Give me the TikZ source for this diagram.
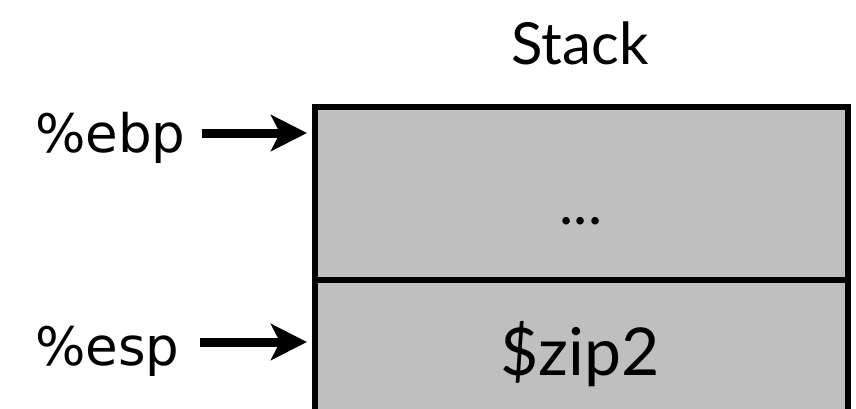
\documentclass[tikz,border=0pt]{standalone}
\usepackage{fontspec}
\usetikzlibrary{arrows.meta}
\newfontfamily\regfont{DejaVu Sans}
\newfontfamily\labelfont{Lato}
\definecolor{cellgray}{RGB}{191,191,191}
\tikzset{
  cell/.style={draw=black, fill=cellgray, line width=6pt, rectangle,
               minimum width=532.5pt, inner sep=0pt},
  reg/.style={font=\regfont\fontsize{53}{60}\selectfont, inner sep=0pt, anchor=base west},
  txt/.style={inner sep=0pt, anchor=base},
  ptr/.style={line width=9pt, -{Stealth[length=36pt,width=36pt,inset=9pt]}}
}
\begin{document}
\begin{tikzpicture}[x=1pt,y=-1pt]
\useasboundingbox (0,0) rectangle (856,408);
% stack cells
\node[cell, minimum height=173pt] (top) at (581.25,193.5) {};
\node[cell, minimum height=160pt] (bottom) at (581.25,360) {};
% labels
\node[txt, font=\labelfont\fontsize{58}{64}\selectfont] (title) at (580,64) {Stack};
\node[txt, font=\labelfont\fontsize{60}{64}\selectfont] (dots) at (581,224) {...};
\node[txt, font=\labelfont\fontsize{66}{70}\selectfont] (zip) at (580,375) {\$zip2};
% registers
\node[reg] (ebp) at (35,152) {\%ebp};
\node[reg] (esp) at (35,365) {\%esp};
\draw[ptr] ([xshift=16pt,yshift=19pt]ebp.base east) -- ([xshift=-5pt,yshift=19pt]ebp.base east -| top.west);
\draw[ptr] ([xshift=20pt,yshift=23pt]esp.base east) -- ([xshift=-5pt,yshift=23pt]esp.base east -| bottom.west);
\end{tikzpicture}
\end{document}
